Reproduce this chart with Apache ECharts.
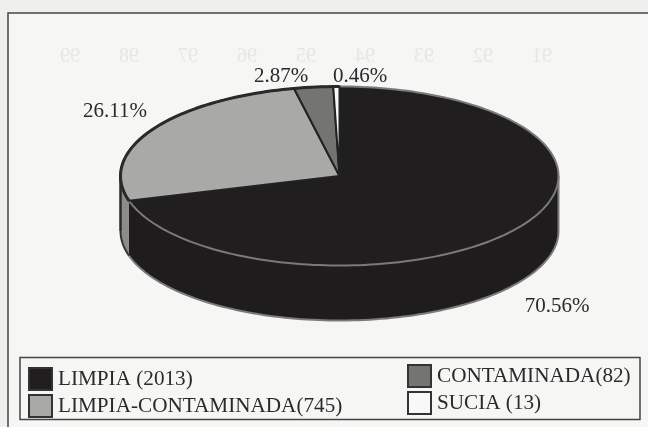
<!DOCTYPE html>
<html><head><meta charset="utf-8">
<style>html,body{margin:0;padding:0;background:#efefee}#c{width:648px;height:427px}</style>
<script src="https://cdn.jsdelivr.net/npm/echarts@6/dist/echarts.min.js"></script>
</head><body><div id="c"></div>
<script>
const categories = ['LIMPIA (2013)', 'LIMPIA-CONTAMINADA(745)', 'CONTAMINADA(82)', 'SUCIA (13)'];
const counts = [2013, 745, 82, 13];
const percentLabels = ['70.56%', '26.11%', '2.87%', '0.46%'];
const showThroughYears = ['99', '98', '97', '96', '95', '94', '93', '92', '91'];

const fills = ['#201e1f', '#a9a9a8', '#747473', '#f8f8f8'];
const wallFills = ['#1e1c1d', '#8c8c8b', '#555', '#ddd'];
const edges = ['#7a7a79', '#2a2a2a', '#2a2a2a', '#2a2a2a'];
const labelAt = [[557, 306], [115, 111], [281, 76], [360, 76]];
const geo = {cx: 339.5, cy: 176, rx: 219, ry: 89.5, depth: 55};
const total = counts.reduce((a, b) => a + b, 0);

function pt(deg, dy) {
  const r = deg * Math.PI / 180;
  return [geo.cx + geo.rx * Math.sin(r), geo.cy - geo.ry * Math.cos(r) + (dy || 0)];
}
function arc(a, b, dy) {
  const out = [], n = Math.max(2, Math.ceil(Math.abs(b - a) / 1.5));
  for (let i = 0; i <= n; i++) out.push(pt(a + (b - a) * i / n, dy));
  return out;
}
function renderSlice(idx) {
  const before = counts.slice(0, idx).reduce((a, b) => a + b, 0);
  const a0 = before / total * 360, a1 = (before + counts[idx]) / total * 360;
  const kids = [];
  const w0 = Math.max(a0, 90), w1 = Math.min(a1, 270);
  if (w1 > w0) {
    const top = arc(w0, w1, 0), bot = arc(w1, w0, geo.depth);
    kids.push({type: 'polygon', shape: {points: top.concat(bot)},
      style: {fill: wallFills[idx], stroke: 'none'}});
    kids.push({type: 'polyline', shape: {points: arc(w1, w0, geo.depth)},
      style: {fill: 'none', stroke: idx === 0 ? '#7a7a79' : '#333', lineWidth: 2}});
    if (w1 === 270) kids.push({type: 'polyline', shape: {points: [pt(270, 0), pt(270, geo.depth)]},
      style: {fill: 'none', stroke: '#2a2a2a', lineWidth: 2.5}});
    if (w0 === 90) kids.push({type: 'polyline', shape: {points: [pt(90, 0), pt(90, geo.depth)]},
      style: {fill: 'none', stroke: '#7a7a79', lineWidth: 2}});
  }
  kids.push({type: 'polygon', shape: {points: [[geo.cx, geo.cy]].concat(arc(a0, a1, 0))},
    style: {fill: fills[idx], stroke: idx === 0 ? 'none' : '#222', lineWidth: idx === 0 ? 0 : 2, lineJoin: 'round'}});
  kids.push({type: 'polyline', shape: {points: arc(a0, a1, 0)},
    style: {fill: 'none', stroke: edges[idx], lineWidth: idx === 0 ? 2 : 3}});
  kids.push({type: 'text', style: {text: percentLabels[idx], x: labelAt[idx][0], y: labelAt[idx][1],
    align: 'center', verticalAlign: 'middle', font: '21px "Liberation Serif"', fill: '#2a2a2a'}});
  return {type: 'group', children: kids};
}

const chart = echarts.init(document.getElementById('c'), null, {renderer: 'canvas'});
const series = categories.map((name, i) => ({
  type: 'custom', name, coordinateSystem: 'none', silent: true, animation: false,
  data: [counts[i]], itemStyle: {color: fills[i], borderColor: '#333', borderWidth: 1.5},
  renderItem: () => renderSlice(i), z: 2 + i
}));
const legendBase = {orient: 'vertical', icon: 'rect', itemWidth: 23, itemHeight: 22, itemGap: 3,
  selectedMode: false, padding: 0,
  textStyle: {fontFamily: 'Liberation Serif', fontSize: 21.2, color: '#2a2a2a', padding: [0, 0, 0, 1]}};
const ghost = showThroughYears.map((y, i) => ({
  type: 'text', z: 1, x: 60 + i * 59, y: 57, scaleX: -1, originX: 0,
  style: {text: y, font: '20px "Liberation Serif"', fill: '#e6e6e5', align: 'right', verticalAlign: 'middle'}
}));
chart.setOption({
  animation: false,
  backgroundColor: '#efefee',
  graphic: [
    {type: 'rect', z: 0, shape: {x: 8, y: 13, width: 660, height: 440}, style: {fill: '#f6f6f5', stroke: '#444', lineWidth: 1.5}},
    {type: 'rect', z: 1, shape: {x: 20, y: 357.5, width: 620, height: 62}, style: {fill: '#f6f6f5', stroke: '#444', lineWidth: 1.5}}
  ].concat(ghost),
  legend: [
    Object.assign({data: categories.slice(0, 2), left: 28, top: 367}, legendBase),
    Object.assign({data: categories.slice(2), left: 407, top: 364}, legendBase)
  ],
  series
});
</script></body></html>
